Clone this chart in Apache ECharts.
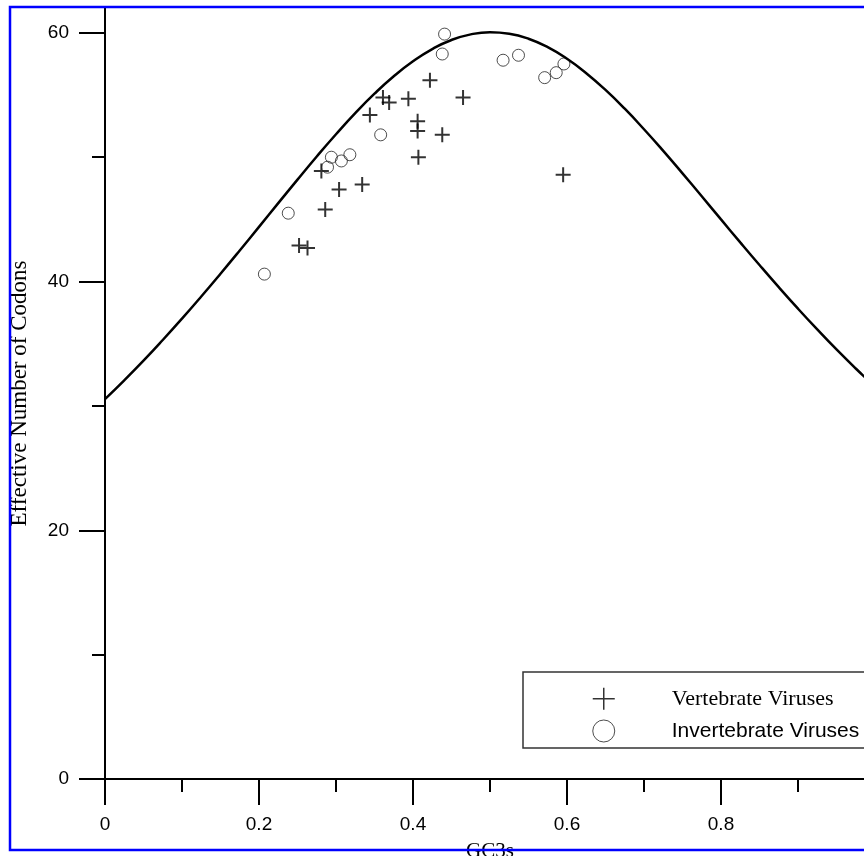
<!DOCTYPE html>
<html>
<head>
<meta charset="utf-8">
<title>ENC plot</title>
<script src="https://cdn.jsdelivr.net/npm/echarts@6/dist/echarts.min.js"></script>
<style>
  html, body { margin: 0; padding: 0; background: #fff; }
  #chart { width: 864px; height: 856px; }
</style>
</head>
<body>
<div id="chart"></div>
<script>
// expected ENC curve
var curveX = [0, 0.025, 0.05, 0.075, 0.1, 0.125, 0.15, 0.175, 0.2, 0.225, 0.25,
  0.275, 0.3, 0.325, 0.35, 0.375, 0.4, 0.425, 0.45, 0.475, 0.5,
  0.525, 0.55, 0.575, 0.6, 0.625, 0.65, 0.675, 0.7, 0.725, 0.75,
  0.775, 0.8, 0.825, 0.85, 0.875, 0.9, 0.925, 0.95, 0.975, 1.0]
var curveY = [30.55, 32.06, 33.64, 35.30, 37.02, 38.80, 40.63, 42.50, 44.40, 46.31, 48.20,
  50.06, 51.85, 53.55, 55.11, 56.51, 57.72, 58.70, 59.43, 59.88, 60.05,
  59.93, 59.53, 58.85, 57.92, 56.76, 55.41, 53.90, 52.25, 50.51, 48.70,
  46.86, 45.00, 43.15, 41.33, 39.55, 37.82, 36.15, 34.54, 33.01, 31.55]

// vertebrate viruses (+)
var vertGC3 = [0.422, 0.465, 0.361, 0.369, 0.394, 0.344, 0.406, 0.406, 0.438,
  0.407, 0.595, 0.281, 0.304, 0.334, 0.286, 0.252, 0.263]
var vertENC = [56.2, 54.8, 54.8, 54.4, 54.7, 53.4, 52.9, 52.1, 51.8,
  50.0, 48.6, 48.9, 47.4, 47.8, 45.8, 42.9, 42.7]

// invertebrate viruses (o)
var invGC3 = [0.441, 0.438, 0.517, 0.537, 0.571, 0.586, 0.596, 0.358, 0.294,
  0.318, 0.307, 0.289, 0.238, 0.207]
var invENC = [59.9, 58.3, 57.8, 58.2, 56.4, 56.8, 57.5, 51.8, 50.0,
  50.2, 49.7, 49.2, 45.5, 40.6]

var yMajor = [0, 20, 40, 60]
var yMinor = [10, 30, 50]

var plusPath = 'path://M0,5L10,5M5,0L5,10'
var sans = 'Liberation Sans, Arial, sans-serif'
var serif = 'Liberation Serif, Times New Roman, serif'

var chart = echarts.init(document.getElementById('chart'))

var option = {
  backgroundColor: '#fff',
  animation: false,
  // x axis runs on past the right edge of the picture (1.0 is cut off)
  grid: { left: 105, width: 770, top: 8, bottom: 77, outerBoundsMode: 'none' },
  xAxis: {
    type: 'value',
    min: 0,
    max: 1,
    interval: 0.2,
    name: 'GC3s',
    nameLocation: 'middle',
    nameGap: 62,
    nameTextStyle: { fontFamily: serif, fontSize: 21, color: '#000' },
    axisLine: { onZero: false, lineStyle: { color: '#000', width: 2 } },
    axisTick: { length: 26, lineStyle: { color: '#000', width: 2 } },
    minorTick: { show: true, splitNumber: 2, length: 13, lineStyle: { color: '#000', width: 2 } },
    axisLabel: { margin: 36, fontFamily: sans, fontSize: 19, color: '#000' },
    splitLine: { show: false }
  },
  yAxis: [{
    type: 'value',
    position: 'left',
    min: 0,
    max: 62,
    name: 'Effective Number of Codons',
    nameLocation: 'middle',
    nameGap: 74,
    nameTextStyle: { fontFamily: serif, fontSize: 23, color: '#000' },
    axisLine: { onZero: false, lineStyle: { color: '#000', width: 2 } },
    axisTick: { customValues: yMajor, length: 26, lineStyle: { color: '#000', width: 2 } },
    axisLabel: { customValues: yMajor, margin: 36, fontFamily: sans, fontSize: 19, color: '#000' },
    splitLine: { show: false }
  }, {
    type: 'value',
    position: 'left',
    min: 0,
    max: 62,
    axisLine: { show: false },
    axisTick: { customValues: yMinor, length: 13, lineStyle: { color: '#000', width: 2 } },
    axisLabel: { show: false },
    splitLine: { show: false }
  }],
  legend: {
    orient: 'vertical',
    left: 587,
    top: 682,
    itemWidth: 22,
    itemHeight: 22,
    itemGap: 9,
    textStyle: { color: '#000', fontSize: 21, padding: [0, 0, 0, 52] },
    data: [
      { name: 'Vertebrate Viruses', itemStyle: { borderWidth: 1.5 }, textStyle: { fontFamily: serif, fontSize: 22 } },
      { name: 'Invertebrate Viruses', itemStyle: { borderWidth: 1 }, textStyle: { fontFamily: sans } }
    ]
  },
  series: [{
    name: 'ENC expected',
    type: 'line',
    smooth: true,
    showSymbol: false,
    lineStyle: { color: '#000', width: 2.5 },
    data: curveX.map(function (x, i) { return [x, curveY[i]] })
  }, {
    name: 'Vertebrate Viruses',
    type: 'scatter',
    symbol: plusPath,
    symbolSize: 15,
    itemStyle: { color: 'rgba(0,0,0,0)', borderColor: '#000', borderWidth: 2 },
    data: vertGC3.map(function (x, i) { return [x, vertENC[i]] })
  }, {
    name: 'Invertebrate Viruses',
    type: 'scatter',
    symbol: 'circle',
    symbolSize: 12,
    itemStyle: { color: 'rgba(0,0,0,0)', borderColor: '#222', borderWidth: 1 },
    data: invGC3.map(function (x, i) { return [x, invENC[i]] })
  }],
  graphic: [{
    type: 'rect',
    z: 50,
    shape: { x: 523, y: 672, width: 400, height: 76 },
    style: { fill: 'none', stroke: '#333', lineWidth: 1.5 }
  }, {
    type: 'rect',
    z: 100,
    shape: { x: 10, y: 7, width: 900, height: 843 },
    style: { fill: 'none', stroke: '#0000ff', lineWidth: 2.5 }
  }]
}

chart.setOption(option)
</script>
</body>
</html>
